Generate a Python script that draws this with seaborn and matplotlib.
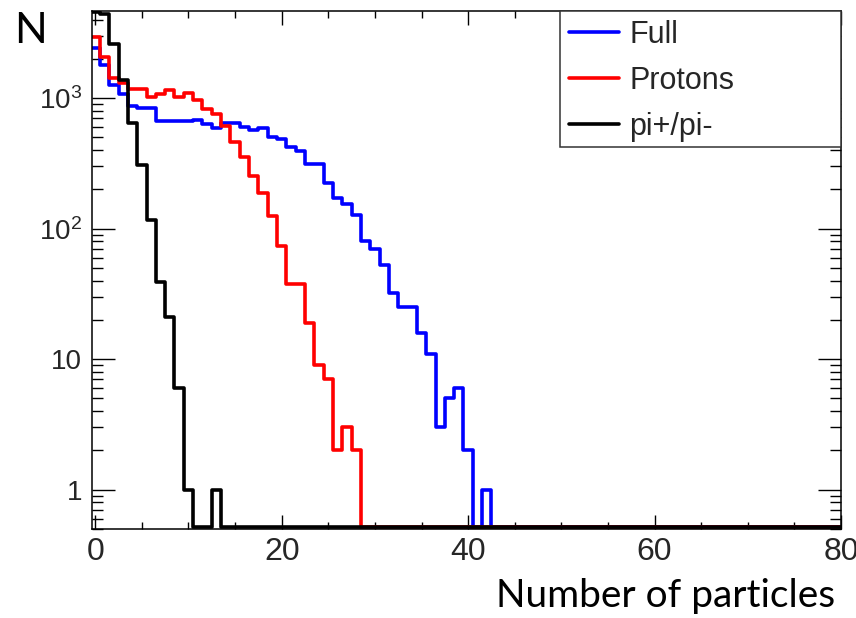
import numpy as np
import pandas as pd
import matplotlib
matplotlib.use("Agg")
import matplotlib.pyplot as plt
import seaborn as sns
from matplotlib.ticker import MultipleLocator, FixedLocator, FixedFormatter, NullFormatter
from matplotlib.patches import Rectangle

# ---------------- data (counts per bin, bins centred on 0..80) ----------------
bin_centers = list(range(0, 81))
full_counts = [2400, 1800, 1260, 1070, 870, 836, 836, 673, 673, 665,
               665, 680, 630, 588, 640, 640, 605, 568, 590, 507,
               484, 421, 396, 313, 313, 223, 171, 155, 128, 80,
               70, 53, 32, 25, 25, 16, 11, 3, 5, 6,
               2, 0, 1] + [0] * 38
proton_counts = [2925, 2057, 1420, 1315, 1170, 1170, 1028, 1077, 1155, 1016,
                 1090, 965, 825, 760, 610, 460, 352, 253, 187, 124,
                 73, 38, 38, 19, 9, 7, 2, 3, 2] + [0] * 52
pion_counts = [6000, 4400, 2585, 1377, 643, 310, 117, 39, 21, 6,
               1, 0, 0, 1] + [0] * 67
series_names = ["Full", "Protons", "pi+/pi-"]
series_colors = ["#0000ff", "#ff0000", "#000000"]
x_ticks = [0, 20, 40, 60, 80]
y_ticks = [1, 10, 100, 1000]
y_tick_labels = ["1", "10", "$10^{2}$", "$10^{3}$"]

# ---------------- style ----------------
sns.set_theme(style="white")
plt.rcParams['font.family'] = ['Liberation Sans', 'DejaVu Sans']
plt.rcParams['mathtext.default'] = 'regular'

W, H = 856, 618
fig = plt.figure(figsize=(W / 100, H / 100), dpi=100)
L, R, T, B = 92, 841, 11, 529
ax = fig.add_axes([L / W, 1 - B / H, (R - L) / W, (B - T) / H])
ax.set_yscale('log')
ymin, ymax = 0.5, 4650

edges = np.arange(-0.5, 81.5, 1.0)
handles = []
for name, vals, color in zip(series_names, [full_counts, proton_counts, pion_counts], series_colors):
    v = np.clip(np.asarray(vals, float), ymin * 1.03, ymax * 0.99)
    df = pd.DataFrame({'x': edges, 'y': np.append(v, v[-1])})
    sns.lineplot(data=df, x='x', y='y', drawstyle='steps-post', color=color,
                 linewidth=2.6, estimator=None, sort=False, ax=ax, legend=False)
    handles.append(ax.lines[-1])

ax.set_xlim(-0.35, 80)
ax.set_ylim(ymin, ymax)
ax.set_xlabel("")
ax.set_ylabel("")

ax.xaxis.set_major_locator(FixedLocator(x_ticks))
ax.xaxis.set_minor_locator(MultipleLocator(5))
ax.yaxis.set_major_locator(FixedLocator(y_ticks))
ax.yaxis.set_major_formatter(FixedFormatter(y_tick_labels))
minor_y = [m * 10.0 ** e for e in range(-1, 4) for m in range(2, 10)]
ax.yaxis.set_minor_locator(FixedLocator(minor_y))
ax.yaxis.set_minor_formatter(NullFormatter())

ax.tick_params(which='both', direction='in', top=True, right=True, bottom=True, left=True,
               color='black', width=1.0)
ax.tick_params(axis='x', which='major', length=10, labelsize=23, pad=6)
ax.tick_params(axis='x', which='minor', length=5)
ax.tick_params(axis='y', which='major', length=16.5, labelsize=20, pad=7)
ax.tick_params(axis='y', which='minor', length=8)
for s in ax.spines.values():
    s.set_color('black')
    s.set_linewidth(1.1)

# legend box (ROOT-style fixed box)
fig.patches.append(Rectangle((560 / W, 1 - 147 / H), (R - 560) / W, (147 - T) / H,
                             transform=fig.transFigure, facecolor='white',
                             edgecolor='#333333', linewidth=1.1, zorder=5))
leg = fig.legend(handles, series_names, loc='upper left',
                 bbox_to_anchor=(560 / W, 1 - T / H), bbox_transform=fig.transFigure,
                 frameon=False, fontsize=22, handlelength=1.64, handletextpad=0.33,
                 labelspacing=0.52, borderpad=0.3, borderaxespad=0.0)
leg.set_zorder(6)
for ln in leg.get_lines():
    ln.set_linewidth(2.6)

fig.text(14 / W, 1 - 43 / H, "N", fontsize=31, family=['Lato', 'DejaVu Sans'],
         ha='left', va='baseline', color='black')
fig.text(835 / W, 1 - 607 / H, "Number of particles", fontsize=28, family=['Lato', 'DejaVu Sans'],
         ha='right', va='baseline', color='black')

fig.savefig("out.png", dpi=100)
